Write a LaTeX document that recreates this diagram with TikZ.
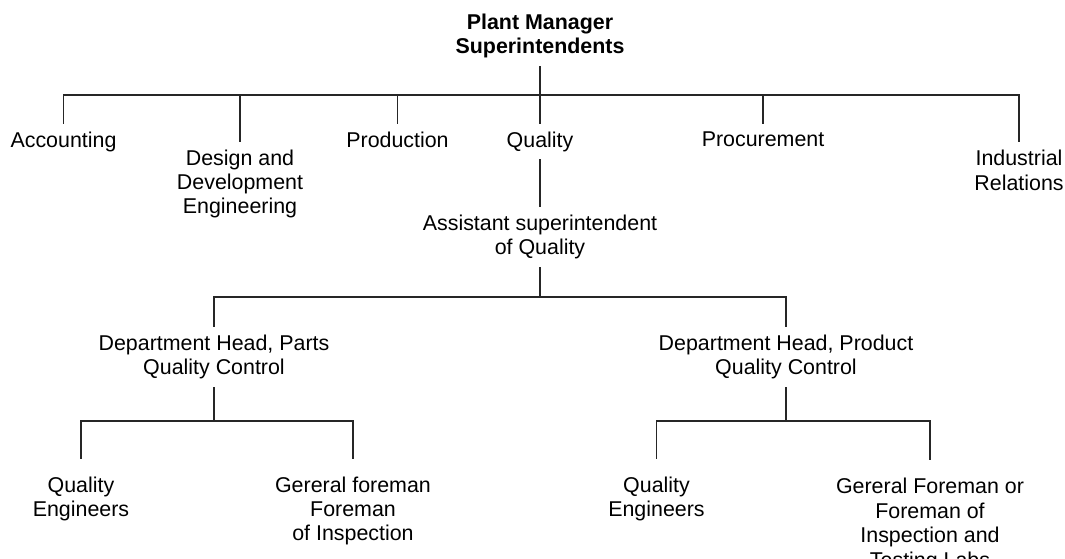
\documentclass[tikz,border=0pt]{standalone}
\usepackage{fontspec}
\setmainfont{Liberation Sans}
\usepackage{tikz}
\usetikzlibrary{positioning,calc}

\begin{document}
\begin{tikzpicture}[
  x=25pt, y=25pt,
  unit/.style={inner sep=0pt, outer xsep=0pt, outer ysep=4pt, align=center,
               font=\fontsize{10.7}{12.2}\selectfont},
  head/.style={unit, font=\fontsize{10.7}{12.2}\selectfont\bfseries},
  leaf/.style={unit, outer ysep=9pt},
  link/.style={line width=0.65pt, color=black!85}
]
\useasboundingbox (0,0) rectangle (21.3,-11.16);

% Top of the plant
\node[head] (pm) at (10.80,-0.72) {Plant Manager\\Superintendents};

% Departments
\node[unit] (acc)  at (1.27,-2.83)  {Accounting};
\node[unit] (dde)  at (4.80,-3.68)  {Design and\\Development\\Engineering};
\node[unit] (prod) at (7.95,-2.79)  {Production};
\node[unit] (qual) at (10.80,-2.83) {Quality};
\node[unit] (proc) at (15.26,-2.79) {Procurement};
\node[unit] (ir)   at (20.38,-3.41) {Industrial\\Relations};

% Quality branch
\node[unit] (asq) at (10.80,-4.74) {Assistant superintendent\\of Quality};
\node[unit] (dhp) at (4.28,-7.14)  {Department Head, Parts\\Quality Control};
\node[unit] (dhq) at (15.72,-7.14) {Department Head, Product\\Quality Control};

% Inspection staff
\node[leaf] (qe1) at (1.62,-9.98)   {Quality\\Engineers};
\node[leaf] (gf1) at (7.06,-10.22)  {Gereral foreman\\Foreman\\of Inspection};
\node[leaf] (qe2) at (13.13,-9.98)  {Quality\\Engineers};
\node[leaf] (gf2) at (18.60,-10.50) {Gereral Foreman or\\Foreman of\\Inspection and\\Testing Labs};

% Bus levels
\coordinate (topbus) at (0,-1.90);
\coordinate (midbus) at (0,-5.94);
\coordinate (lowbus) at (0,-8.42);

% Connections --- departments
\draw[link] (pm.south) -- (pm.south |- topbus) -| (acc.north);
\draw[link] (pm.south |- topbus) -| (dde.north);
\draw[link] (pm.south |- topbus) -| (prod.north);
\draw[link] (pm.south |- topbus) -- (qual.north);
\draw[link] (pm.south |- topbus) -| (proc.north);
\draw[link] (pm.south |- topbus) -| (ir.north);

% Connections --- quality
\draw[link] (qual.south) -- (asq.north);
\draw[link] (asq.south) -- (asq.south |- midbus) -| (dhp.north);
\draw[link] (asq.south |- midbus) -| (dhq.north);

% Connections --- inspection
\draw[link] (dhp.south) -- (dhp.south |- lowbus) -| (qe1.north);
\draw[link] (dhp.south |- lowbus) -| (gf1.north);
\draw[link] (dhq.south) -- (dhq.south |- lowbus) -| (qe2.north);
\draw[link] (dhq.south |- lowbus) -| (gf2.north);

\end{tikzpicture}
\end{document}
